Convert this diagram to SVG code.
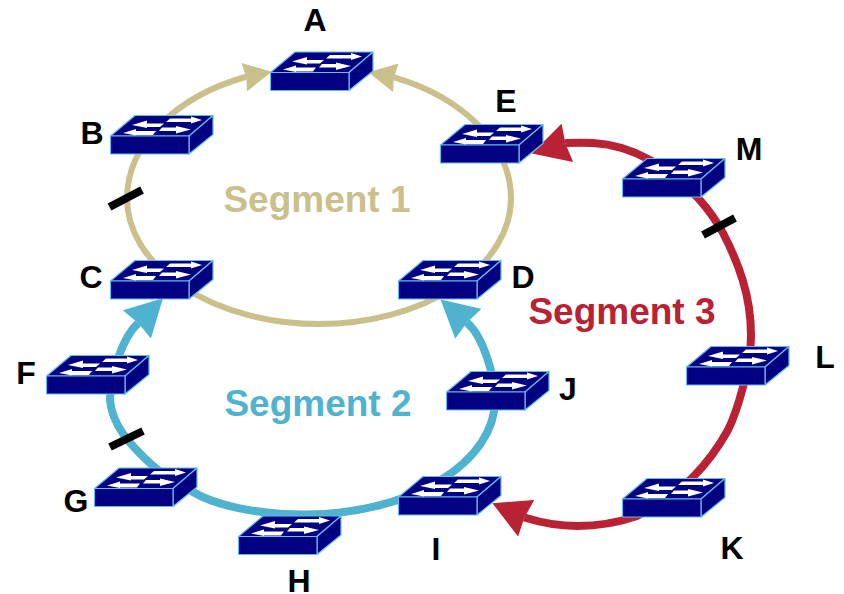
<svg xmlns="http://www.w3.org/2000/svg" width="844" height="594" viewBox="0 0 844 594">
<style>
text{font-family:"Liberation Sans",Arial,sans-serif;font-weight:bold;text-anchor:middle}
.n{font-size:32px;fill:#000}
.s{font-size:37px}
.ring{fill:none;stroke-linecap:butt}
.tan{stroke:#C9C08B;stroke-width:6}
.teal{stroke:#4FB3D0;stroke-width:8}
.red{stroke:#B82234;stroke-width:8}
.bar{stroke:#000;stroke-width:8;fill:none}
.face{fill:#000080;stroke:#66BBEE;stroke-width:1.2;stroke-linejoin:round}
.arr{fill:#fff}
</style>
<defs>
<marker id="hTan" markerUnits="userSpaceOnUse" viewBox="0 0 28 29" markerWidth="28" markerHeight="29" refX="2" refY="14.500" orient="auto"><path d="M0 0L28 14.500L0 29L2 14.500Z" fill="#C9C08B"/></marker>
<marker id="hTeal" markerUnits="userSpaceOnUse" viewBox="0 0 37 40" markerWidth="37" markerHeight="40" refX="2" refY="20" orient="auto"><path d="M0 0L37 20L0 40L2 20Z" fill="#4FB3D0"/></marker>
<marker id="hRed" markerUnits="userSpaceOnUse" viewBox="0 0 37 40" markerWidth="37" markerHeight="40" refX="2" refY="20" orient="auto"><path d="M0 0L37 20L0 40L2 20Z" fill="#B82234"/></marker>
<g id="sw">
<path class="face" d="M0.500 21L25 0.500H103L79 21Z"/>
<path class="face" d="M79 21L103 0.500V19.500L79 39Z"/>
<rect class="face" x="0.500" y="21" width="78.500" height="18"/>
<path class="arr" d="M60 3.500L81 3.500V1.500L92 5L81 8.500V7L56 7Z"/>
<path class="arr" d="M54 8.500L37 8.500V5.500L22 10L37 13V12L50 12Z"/>
<path class="arr" d="M46 16L26 16V14L13 18L26 20.500V20L43 20Z"/>
<path class="arr" d="M52 12.500L66 12.500V11L81 14.500L66 18.500V16L49 16Z"/>
</g>
</defs>
<g id="connectors">
<path class="ring tan" marker-end="url(#hTan)" d="M511 198A192 126 0 0 1 127 198A192 132 0 0 1 245.200 77L246.200 76.800"/>
<path class="ring tan" marker-end="url(#hTan)" d="M511 198A192 132 0 0 0 394.900 77.600L393.900 77.400"/>
<path class="ring teal" marker-end="url(#hTeal)" d="M495 400A190 114.500 0 0 1 305 514.500C255 514.500 215 505 193 492C178 484 163 475 152 465C130 445 112 425 110 400C110 375 122.800 337.200 137.500 323.700L138.200 323"/>
<path class="ring teal" marker-end="url(#hTeal)" d="M495 400C495 375 482.700 336.500 467.700 323.200L466.900 322.500"/>
<path class="ring red" marker-end="url(#hRed)" d="M751 335C751 295 738 262 723 233C716 220 708 209 698 198C684 183 668 170 650 160C632 150 612 144 593 143C584 142.700 575 142.500 566.400 143.100L565.400 143.400"/>
<path class="ring red" marker-end="url(#hRed)" d="M751 335C751 355 748 372 743 387C739 402 735 416 728 430C718 448 707 463 693 477C678 492 658 506 637 516C617 523 597 526 577 526C559 526 542 523 525.300 517.800L524.400 517.400"/>
<path class="bar" d="M109.500 207L142 190"/>
<path class="bar" d="M703 235L735 218"/>
<path class="bar" d="M110 447L143 431"/>
</g>
<g id="node-A"><use href="#sw" x="270" y="51.500"/><text class="n" x="315" y="31">A</text></g>
<g id="node-B"><use href="#sw" x="110" y="115"/><text class="n" x="92" y="144">B</text></g>
<g id="node-C"><use href="#sw" x="110" y="260"/><text class="n" x="91" y="288">C</text></g>
<g id="node-D"><use href="#sw" x="398" y="260"/><text class="n" x="523" y="288">D</text></g>
<g id="node-E"><use href="#sw" x="440" y="124"/><text class="n" x="506" y="112">E</text></g>
<g id="node-F"><use href="#sw" x="46" y="355"/><text class="n" x="26" y="384">F</text></g>
<g id="node-G"><use href="#sw" x="94" y="467.500"/><text class="n" x="76" y="512">G</text></g>
<g id="node-H"><use href="#sw" x="238" y="515.500"/><text class="n" x="299" y="592">H</text></g>
<g id="node-I"><use href="#sw" x="398" y="476"/><text class="n" x="436" y="560">I</text></g>
<g id="node-J"><use href="#sw" x="446" y="371"/><text class="n" x="568" y="400">J</text></g>
<g id="node-K"><use href="#sw" x="622" y="478"/><text class="n" x="732" y="559">K</text></g>
<g id="node-L"><use href="#sw" x="686" y="346"/><text class="n" x="825" y="368">L</text></g>
<g id="node-M"><use href="#sw" x="622" y="158"/><text class="n" x="749" y="160">M</text></g>
<text class="s" x="317" y="212" fill="#C9C08B">Segment 1</text>
<text class="s" x="318" y="416" fill="#4FB3D0">Segment 2</text>
<text class="s" x="622" y="324" fill="#B82234">Segment 3</text>
</svg>
